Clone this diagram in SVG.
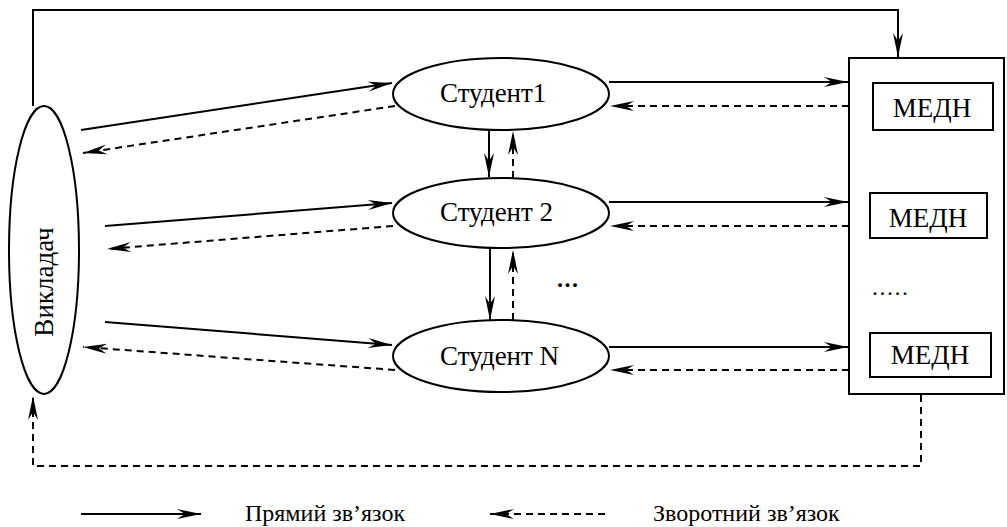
<svg xmlns="http://www.w3.org/2000/svg" width="1007" height="527" viewBox="0 0 1007 527">
<style>
.shape{fill:#fff;stroke:#000;stroke-width:2}
.solid{fill:none;stroke:#000;stroke-width:2;marker-end:url(#arr)}
.dash{fill:none;stroke:#000;stroke-width:2;stroke-dasharray:7,5;marker-end:url(#arr)}
.t{font-family:"Liberation Serif","Times New Roman",serif;fill:#000}
.big{font-size:27px}
.leg{font-size:24px}
</style>
<defs>
<marker id="arr" markerUnits="userSpaceOnUse" markerWidth="26" markerHeight="12" viewBox="-25 -6 26 12" refX="0" refY="0" orient="auto">
<path d="M0,0 L-24,-5 L-16,0 L-24,5 Z" fill="#000"/>
</marker>
</defs>
<g id="connectors">
<polyline class="solid" points="33,106 33,10 898,10 898,57"/>
<polyline class="dash" points="921,395 921,466 33,466 33,396"/>
<line class="solid" x1="81" y1="130" x2="392" y2="83"/>
<line class="dash" x1="395" y1="106" x2="83" y2="153"/>
<line class="solid" x1="105" y1="226" x2="392" y2="203"/>
<line class="dash" x1="393" y1="226" x2="107" y2="249"/>
<line class="solid" x1="105" y1="322" x2="392" y2="345"/>
<line class="dash" x1="395" y1="370" x2="83" y2="347"/>
<line class="solid" x1="609" y1="82" x2="848" y2="82"/>
<line class="dash" x1="849" y1="106" x2="610" y2="106"/>
<line class="solid" x1="609" y1="202" x2="848" y2="202"/>
<line class="dash" x1="849" y1="226" x2="610" y2="226"/>
<line class="solid" x1="609" y1="347" x2="848" y2="347"/>
<line class="dash" x1="849" y1="370" x2="610" y2="370"/>
<line class="solid" x1="489" y1="130" x2="489" y2="177"/>
<line class="dash" x1="513" y1="178" x2="513" y2="131"/>
<line class="solid" x1="490" y1="249" x2="490" y2="320"/>
<line class="dash" x1="513" y1="320" x2="513" y2="250"/>
</g>
<g id="teacher">
<ellipse class="shape" cx="44" cy="250" rx="35" ry="144"/>
<text class="t big" transform="translate(53,282) rotate(-90)" text-anchor="middle">Викладач</text>
</g>
<g id="student1">
<ellipse class="shape" cx="501" cy="94" rx="108" ry="36"/>
<text class="t big" x="440" y="102">Студент1</text>
</g>
<g id="student2">
<ellipse class="shape" cx="501" cy="213" rx="108" ry="35"/>
<text class="t big" x="440" y="221">Студент 2</text>
</g>
<g id="studentN">
<ellipse class="shape" cx="501" cy="356" rx="108" ry="36"/>
<text class="t big" x="440" y="365">Студент N</text>
</g>
<text class="t leg" x="557" y="287" font-weight="bold" letter-spacing="1.5">...</text>
<g id="medh-container">
<rect class="shape" x="849" y="58" width="155" height="336"/>
<text class="t leg" x="872" y="295" letter-spacing="1.5">.....</text>
</g>
<g id="medh1">
<rect class="shape" x="873" y="83" width="120" height="47"/>
<text class="t big" x="932" y="117" text-anchor="middle">МЕДН</text>
</g>
<g id="medh2">
<rect class="shape" x="870" y="193" width="117" height="45"/>
<text class="t big" x="928" y="227" text-anchor="middle">МЕДН</text>
</g>
<g id="medh3">
<rect class="shape" x="870" y="333" width="121" height="44"/>
<text class="t big" x="930" y="364" text-anchor="middle">МЕДН</text>
</g>
<g id="legend">
<line class="solid" x1="81" y1="514" x2="201" y2="514"/>
<text class="t leg" x="245" y="521">Прямий зв’язок</text>
<line class="dash" x1="605" y1="514" x2="490" y2="514"/>
<text class="t leg" x="653" y="521">Зворотний зв’язок</text>
</g>
</svg>
